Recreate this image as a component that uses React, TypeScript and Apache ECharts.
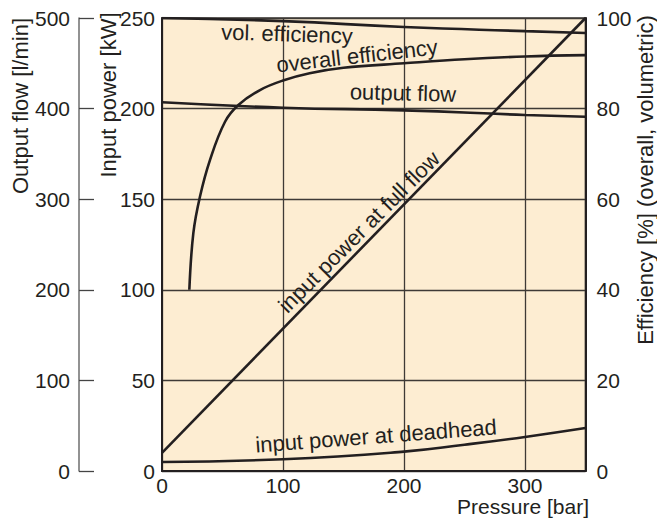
import React, { useEffect, useRef } from "react";
import * as echarts from "echarts";

// Pressure [bar] vs. values
const volEfficiency: number[][] = [
  [0, 100], [100, 99.3], [200, 98.0], [300, 97.1], [350, 96.7],
];
const overallEfficiency: number[][] = [
  [22.6, 40], [25.9, 52.5], [31.4, 60.6], [39.7, 68.7], [52.1, 77.1],
  [63.1, 80.8], [81, 84.1], [100, 86.2], [122, 87.8], [150, 89.0],
  [200, 90.0], [250, 90.9], [300, 91.5], [350, 91.8],
];
const outputFlow: number[][] = [
  [0, 407], [100, 401], [200, 398], [300, 393], [350, 391],
];
const powerFullFlow: number[][] = [
  [0, 10], [350, 250],
];
const powerDeadhead: number[][] = [
  [0, 5], [100, 6.5], [200, 10.7], [250, 14.5], [300, 18.8], [350, 23.7],
];

const curveLabels = [
  "vol. efficiency",
  "overall efficiency",
  "output flow",
  "input power at full flow",
  "input power at deadhead",
];
const axisNames = {
  x: "Pressure [bar]",
  power: "Input power [kW]",
  flow: "Output flow [l/min]",
  eff: "Efficiency [%] (overall, volumetric)",
};

const INK = "#231f20";
const GRIDC = "#3e3a36";
const FONT = "Liberation Sans";
const FS = 21;
const LFS = 22;

export default function App() {
  const ref = useRef<HTMLDivElement>(null);
  useEffect(() => {
    if (!ref.current) return;
    const chart = echarts.init(ref.current, null, { renderer: "svg" });
    const lineStyle = { color: INK, width: 2.6 };
    const txt = (text: string, x: number, y: number, rot: number, size = LFS) => ({
      type: "text",
      x,
      y,
      rotation: rot,
      style: {
        text,
        fill: INK,
        font: `${size}px "${FONT}"`,
        align: "center",
        verticalAlign: "middle",
      },
      z: 100,
    });
    chart.setOption({
      animation: false,
      textStyle: { fontFamily: FONT },
      grid: {
        left: 162,
        top: 18,
        width: 423.5,
        height: 453,
        show: true,
        backgroundColor: "#fdedd2",
        borderColor: GRIDC,
        borderWidth: 1.5,
      },
      xAxis: {
        type: "value",
        min: 0,
        max: 350,
        interval: 100,
        axisLine: { show: true, lineStyle: { color: INK, width: 2 } },
        axisTick: { show: false },
        axisLabel: { color: INK, fontSize: FS, fontFamily: FONT, margin: 4, showMaxLabel: false },
        splitLine: { show: true, lineStyle: { color: GRIDC, width: 1.3 } },
      },
      yAxis: [
        {
          type: "value",
          min: 0,
          max: 250,
          interval: 50,
          position: "left",
          axisLine: { show: true, lineStyle: { color: INK, width: 2 } },
          axisTick: { show: false },
          axisLabel: { color: INK, fontSize: FS, fontFamily: FONT, margin: 7 },
          splitLine: { show: true, lineStyle: { color: GRIDC, width: 1.3 } },
        },
        {
          type: "value",
          min: 0,
          max: 100,
          interval: 20,
          position: "right",
          axisLine: { show: true, lineStyle: { color: INK, width: 2 } },
          axisTick: { show: false },
          axisLabel: { color: INK, fontSize: FS, fontFamily: FONT, margin: 11 },
          splitLine: { show: false },
        },
        {
          type: "value",
          min: 0,
          max: 500,
          interval: 100,
          position: "left",
          offset: 83,
          axisLine: { show: true, lineStyle: { color: "#6e6e6e", width: 1.5 } },
          axisTick: { show: true, inside: true, length: 15, lineStyle: { color: "#444", width: 1.3 } },
          axisLabel: { color: INK, fontSize: FS, fontFamily: FONT, margin: 9 },
          splitLine: { show: false },
        },
      ],
      series: [
        { name: curveLabels[0], type: "line", yAxisIndex: 1, data: volEfficiency, smooth: true, showSymbol: false, lineStyle },
        { name: curveLabels[1], type: "line", yAxisIndex: 1, data: overallEfficiency, smooth: 0.4, showSymbol: false, lineStyle },
        { name: curveLabels[2], type: "line", yAxisIndex: 2, data: outputFlow, smooth: true, showSymbol: false, lineStyle },
        { name: curveLabels[3], type: "line", yAxisIndex: 0, data: powerFullFlow, showSymbol: false, lineStyle },
        { name: curveLabels[4], type: "line", yAxisIndex: 0, data: powerDeadhead, smooth: true, showSymbol: false, lineStyle },
      ],
      graphic: [
        txt(curveLabels[0], 287, 34, -0.03),
        txt(curveLabels[1], 357, 56, 0.113),
        txt(curveLabels[2], 403, 93, -0.025),
        txt(curveLabels[3], 359, 232, Math.PI / 4),
        txt(curveLabels[4], 376, 436, 0.075),
        txt(axisNames.flow, 20, 106, Math.PI / 2),
        txt(axisNames.power, 108, 95, Math.PI / 2),
        txt(axisNames.eff, 645, 180, Math.PI / 2),
        {
          type: "text",
          x: 589,
          y: 506.5,
          style: {
            text: axisNames.x,
            fill: INK,
            font: `${FS}px "${FONT}"`,
            align: "right",
            verticalAlign: "middle",
          },
        },
      ],
    });
    return () => chart.dispose();
  }, []);
  return <div ref={ref} style={{ width: 657, height: 518, position: "absolute", left: 0, top: 0 }} />;
}
